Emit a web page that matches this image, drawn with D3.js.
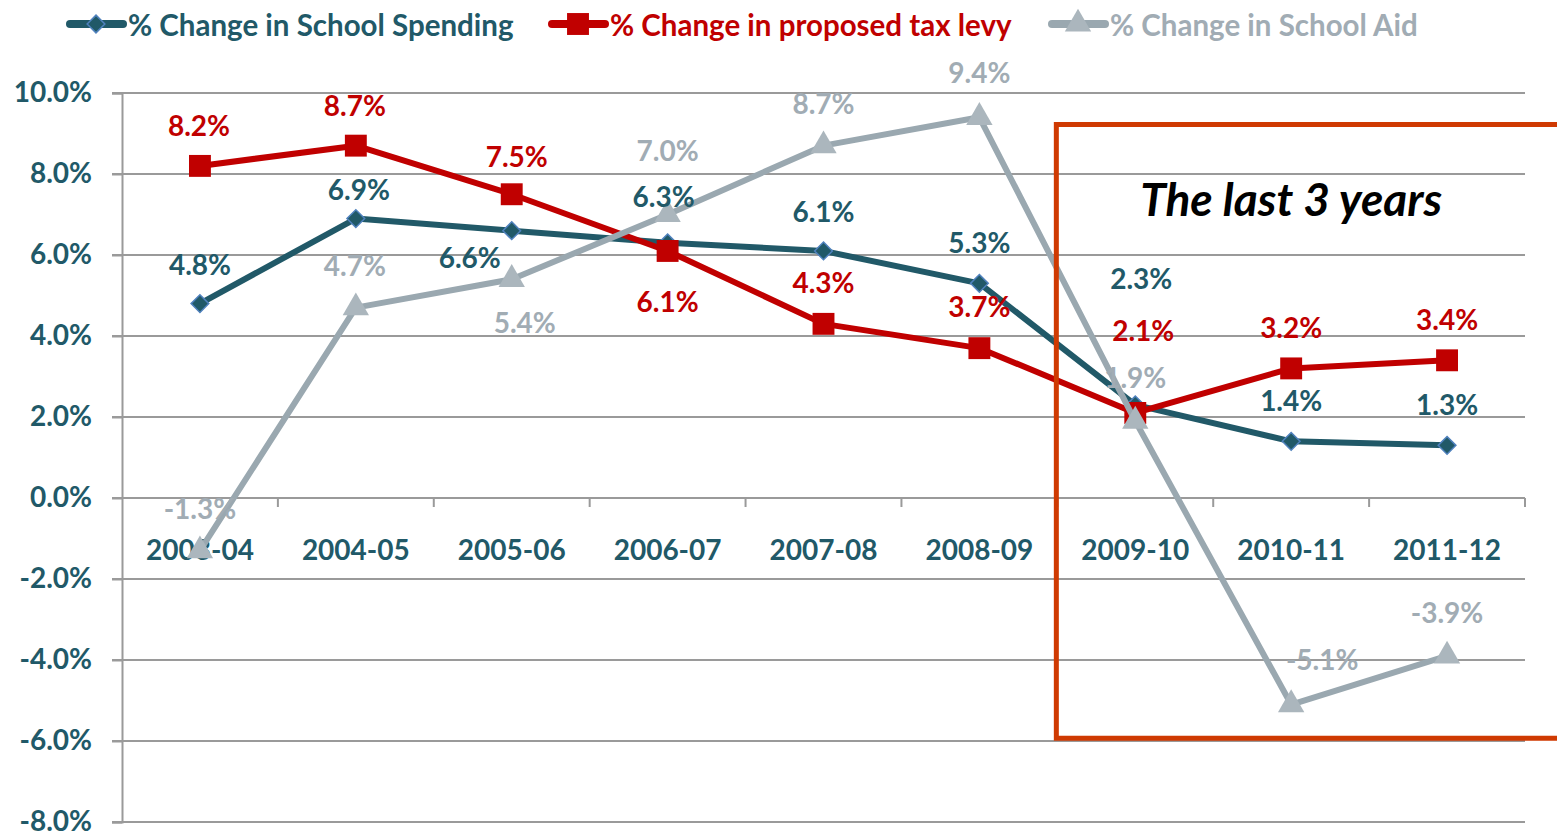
<!DOCTYPE html>
<html>
<head>
<meta charset="utf-8">
<script src="https://cdn.jsdelivr.net/npm/d3@7"></script>
<style>
  body { margin: 0; background: #fff; }
  text { font-family: Lato, "Open Sans", sans-serif; font-weight: bold; }
</style>
</head>
<body>
<div id="chart"></div>
<script>
(function () {

  // data
  const years = ["2003-04", "2004-05", "2005-06", "2006-07", "2007-08", "2008-09", "2009-10", "2010-11", "2011-12"];
  const spending = [4.8, 6.9, 6.6, 6.3, 6.1, 5.3, 2.3, 1.4, 1.3];
  const taxLevy = [8.2, 8.7, 7.5, 6.1, 4.3, 3.7, 2.1, 3.2, 3.4];
  const schoolAid = [-1.3, 4.7, 5.4, 7.0, 8.7, 9.4, 1.9, -5.1, -3.9];
  const yTicks = [10, 8, 6, 4, 2, 0, -2, -4, -6, -8];
  const seriesNames = ["% Change in School Spending", "% Change in proposed tax levy", "% Change in School Aid"];

  // label offsets (px) from each point, same order as the values
  const spendingLabelOff = [[0, -40], [3, -30], [-42, 26], [-4, -47], [0, -40], [0, -41], [6, -127], [0, -41], [0, -41]];
  const taxLabelOff = [[-1, -41], [-1, -41], [5, -38], [0, 50], [0, -42], [0, -42], [8, -83], [0, -41], [0, -41]];
  const aidLabelOff = [[0, -43], [-1, -43], [13, 43], [0, -65], [0, -43], [0, -45], [0, -44], [31, -46], [0, -44]];

  const teal = "#215968", red = "#c00000", grey = "#9aa8b0", greyMark = "#abb6bd", greyText = "#a1acb4";
  const gridColor = "#9a9a9a", boxColor = "#cf3a02";

  const W = 1557, H = 832;
  const left = 122, right = 1525, top = 93, bottom = 822;

  const svg = d3.select("#chart")
    .append("svg")
    .attr("width", W)
    .attr("height", H);

  const x = d3.scaleBand().domain(years).range([left, right]);
  const y = d3.scaleLinear().domain([-8, 10]).range([bottom, top]);
  const cx = d => x(d) + x.bandwidth() / 2;

  // gridlines + y axis
  svg.append("g")
    .selectAll("line")
    .data(yTicks)
    .join("line")
    .attr("x1", left - 10)
    .attr("x2", right)
    .attr("y1", d => y(d))
    .attr("y2", d => y(d))
    .attr("stroke", gridColor)
    .attr("stroke-width", 2);

  const yAxis = svg.append("g")
    .attr("transform", `translate(${left},0)`)
    .call(d3.axisLeft(y).tickValues(yTicks).tickSize(10).tickPadding(20).tickFormat(d => d.toFixed(1) + "%"));
  yAxis.select(".domain").attr("stroke", gridColor).attr("stroke-width", 2);
  yAxis.selectAll(".tick line").attr("stroke", gridColor).attr("stroke-width", 2);
  yAxis.selectAll("text")
    .attr("fill", teal)
    .attr("dy", "0.3em")
    .style("font-size", "28px")
    .style("font-family", "Lato, sans-serif")
    .style("font-weight", "bold");

  // x axis at zero with ticks between categories
  const xAxis = svg.append("g");
  xAxis.append("line")
    .attr("x1", left).attr("x2", right)
    .attr("y1", y(0)).attr("y2", y(0))
    .attr("stroke", gridColor).attr("stroke-width", 2);
  xAxis.selectAll("line.tk")
    .data(years.slice(1).concat(["end"]))
    .join("line")
    .attr("class", "tk")
    .attr("x1", (d, i) => left + x.step() * (i + 1))
    .attr("x2", (d, i) => left + x.step() * (i + 1))
    .attr("y1", y(0)).attr("y2", y(0) + 9)
    .attr("stroke", gridColor).attr("stroke-width", 2);
  xAxis.selectAll("text")
    .data(years)
    .join("text")
    .attr("x", d => cx(d))
    .attr("y", y(0) + 51)
    .attr("text-anchor", "middle")
    .attr("dominant-baseline", "central")
    .attr("fill", teal)
    .style("font-size", "28px")
    .text(d => d);

  const line = d3.line().x((d, i) => cx(years[i])).y(d => y(d));

  const diamond = d3.symbol().type(d3.symbolDiamond2).size(200);
  const square = d3.symbol().type(d3.symbolSquare).size(480);
  const triangle = d3.symbol().type(d3.symbolTriangle).size(300);

  function drawSeries(values, color, width, marker, markFill, markStroke) {
    svg.append("path")
      .datum(values)
      .attr("d", line)
      .attr("fill", "none")
      .attr("stroke", color)
      .attr("stroke-width", width)
      .attr("stroke-linejoin", "round");
    svg.append("g")
      .selectAll("path")
      .data(values)
      .join("path")
      .attr("d", marker)
      .attr("transform", (d, i) => `translate(${cx(years[i])},${y(d)})`)
      .attr("fill", markFill)
      .attr("stroke", markStroke)
      .attr("stroke-width", markStroke === "none" ? 0 : 1.5);
  }

  drawSeries(spending, teal, 6, diamond, teal, "#4f81bd");
  drawSeries(taxLevy, red, 6, square, red, "none");
  drawSeries(schoolAid, grey, 6, triangle, greyMark, "none");

  function drawLabels(values, offs, color) {
    svg.append("g")
      .selectAll("text")
      .data(values)
      .join("text")
      .attr("x", (d, i) => cx(years[i]) + offs[i][0])
      .attr("y", (d, i) => y(d) + offs[i][1])
      .attr("text-anchor", "middle")
      .attr("dominant-baseline", "central")
      .attr("fill", color)
      .style("font-size", "28px")
      .text(d => d.toFixed(1) + "%");
  }

  drawLabels(spending, spendingLabelOff, teal);
  drawLabels(taxLevy, taxLabelOff, red);
  drawLabels(schoolAid, aidLabelOff, greyText);

  // highlight box for the last 3 years
  const bx = left + x.step() * 6 - 1;
  svg.append("path")
    .attr("d", `M${W + 10},${y(9.22)} H${bx} V${y(-5.93)} H${W + 10}`)
    .attr("fill", "none")
    .attr("stroke", boxColor)
    .attr("stroke-width", 5);

  svg.append("text")
    .attr("x", cx(years[7]))
    .attr("y", y(7.4))
    .attr("text-anchor", "middle")
    .attr("dominant-baseline", "central")
    .attr("fill", "#000")
    .style("font-size", "46px")
    .style("font-style", "italic")
    .text("The last 3 years");

  // legend
  const legendItems = [
    { name: seriesNames[0], color: teal, x: 68, marker: diamond, fill: teal, stroke: "#4f81bd" },
    { name: seriesNames[1], color: red, x: 550, marker: square, fill: red, stroke: "none" },
    { name: seriesNames[2], color: grey, x: 1050, marker: triangle, fill: greyMark, stroke: "none", text: greyText }
  ];
  const lg = svg.append("g")
    .selectAll("g")
    .data(legendItems)
    .join("g")
    .attr("transform", d => `translate(${d.x},24)`);
  lg.append("line")
    .attr("x1", 2).attr("x2", 55)
    .attr("stroke", d => d.color)
    .attr("stroke-width", 8)
    .attr("stroke-linecap", "round");
  lg.append("path")
    .attr("d", d => d.marker())
    .attr("transform", "translate(28,0)")
    .attr("fill", d => d.fill)
    .attr("stroke", d => d.stroke)
    .attr("stroke-width", d => d.stroke === "none" ? 0 : 1.5);
  lg.append("text")
    .attr("x", 60)
    .attr("dominant-baseline", "central")
    .attr("fill", d => d.text || d.color)
    .style("font-size", "29.5px")
    .text(d => d.name);

})();
</script>
</body>
</html>
